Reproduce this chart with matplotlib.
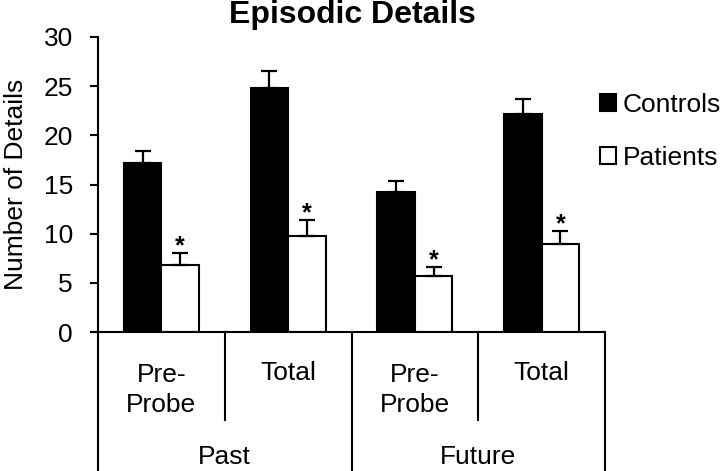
import matplotlib
matplotlib.use("Agg")
import matplotlib.pyplot as plt
import matplotlib.transforms as mtransforms
import numpy as np

plt.rcParams['font.family'] = ['Liberation Sans', 'DejaVu Sans']

subcats = ["Pre-\nProbe", "Total", "Pre-\nProbe", "Total"]
groups = ["Past", "Future"]
controls = [17.2, 24.85, 14.2, 22.2]
controls_err = [1.25, 1.65, 1.2, 1.5]
patients = [6.8, 9.8, 5.7, 9.0]
patients_err = [1.2, 1.6, 0.9, 1.25]
yticks = [0, 5, 10, 15, 20, 25, 30]

FS = 19

fig = plt.figure(figsize=(7.2, 4.71), dpi=100)
ax = fig.add_axes([98/720, 1-332/471, (605-98)/720, (332-37)/471])

x = np.arange(len(subcats))
w = 0.296
ek = dict(ecolor='black', elinewidth=1.6, capsize=6, capthick=1.6)
ax.bar(x - w/2, controls, w, color='black', edgecolor='black', linewidth=1.5,
       yerr=[np.zeros(4), controls_err], error_kw=ek, label='Controls', zorder=3)
ax.bar(x + w/2, patients, w, color='white', edgecolor='black', linewidth=1.5,
       yerr=[np.zeros(4), patients_err], error_kw=ek, label='Patients', zorder=3)

for xi, v, e in zip(x, patients, patients_err):
    ax.text(xi + w/2, v + e - 0.5, '*', ha='center', va='bottom',
            fontsize=18, fontweight='bold')

ax.set_xlim(-0.5, 3.5)
ax.set_ylim(0, 30)
ax.set_yticks(yticks)
ax.tick_params(axis='y', direction='out', length=6, width=1.5, labelsize=FS, pad=12)
ax.tick_params(axis='x', bottom=False, labelbottom=False)
for s in ['top', 'right']:
    ax.spines[s].set_visible(False)
ax.spines['left'].set_linewidth(1.5)
ax.spines['bottom'].set_visible(False)

trans = mtransforms.blended_transform_factory(ax.transData, ax.transAxes)
# x axis baseline extended left to tick length
ax.plot([-0.5 - 7/126.75, 3.5], [0, 0], transform=trans, color='black',
        lw=1.5, clip_on=False, zorder=4)
# dividers
bot = -(471-332)/295
inner = -(420-332)/295
for b in [-0.5, 1.5, 3.5]:
    ax.plot([b, b], [0, bot], transform=trans, color='black', lw=1.5, clip_on=False)
for b in [0.5, 2.5]:
    ax.plot([b, b], [0, inner], transform=trans, color='black', lw=1.5, clip_on=False)

for xi, lab in zip(x, subcats):
    if '\n' in lab:
        ax.text(xi, -(390-332)/295, lab, transform=trans, ha='center', va='center',
                fontsize=FS, linespacing=1.32)
    else:
        ax.text(xi, -(373-332)/295, lab, transform=trans, ha='center', va='center',
                fontsize=FS)
for gi, g in enumerate(groups):
    ax.text(0.5 + 2*gi, -(457-332)/295, g, transform=trans, ha='center',
            va='center', fontsize=FS)

ax.set_ylabel('Number of Details', fontsize=FS, labelpad=11)
fig.text(352/720, 1-15/471, 'Episodic Details', ha='center', va='center',
         fontsize=23, fontweight='bold')

leg = ax.legend(loc='upper left', bbox_to_anchor=(600/720, 1-93/471),
                bbox_transform=fig.transFigure, frameon=False, fontsize=FS,
                handlelength=0.6, handleheight=0.6, handletextpad=0.25,
                labelspacing=1.1, borderpad=0, borderaxespad=0)

fig.savefig('out.png', dpi=100)
